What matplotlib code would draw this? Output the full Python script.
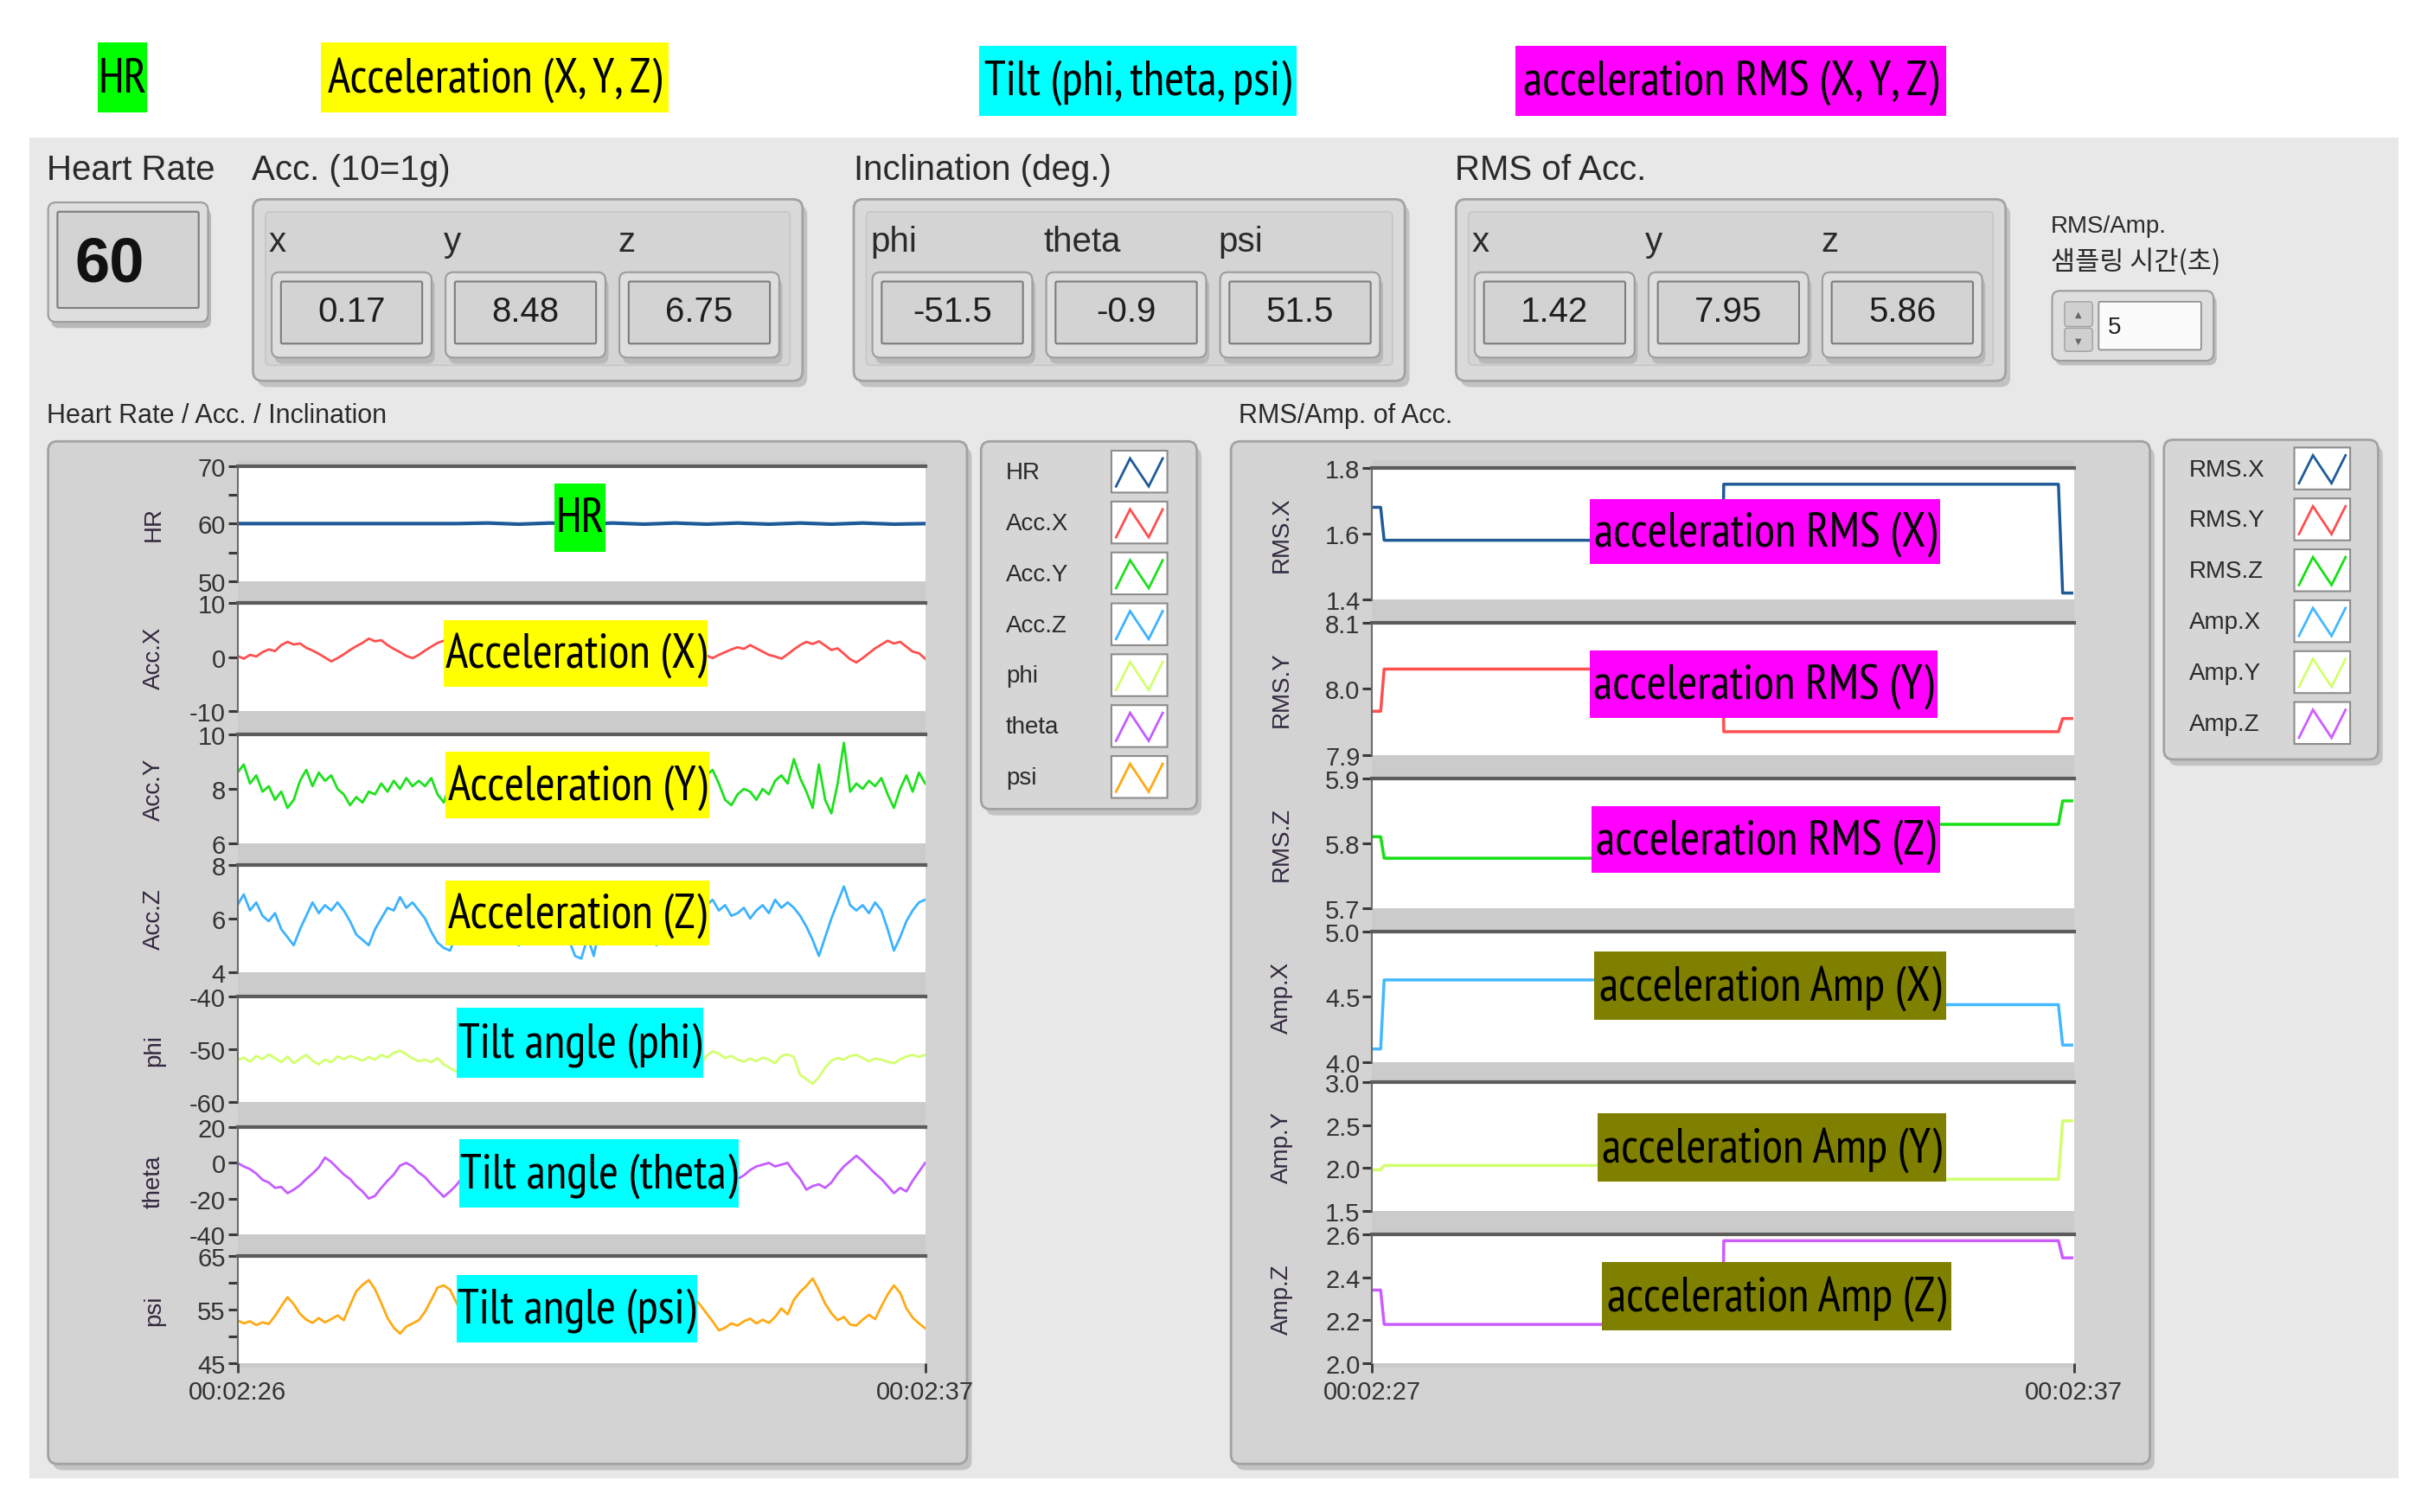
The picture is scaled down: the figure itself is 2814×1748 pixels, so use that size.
import matplotlib.pyplot as plt
import numpy as np
from matplotlib import font_manager
from matplotlib.patches import FancyBboxPatch, Rectangle
from matplotlib.ticker import FixedLocator, FormatStrFormatter

# ---- indicator values ----
hr_value = '60'
acc_values = ['0.17', '8.48', '6.75']
incl_values = ['-51.5', '-0.9', '51.5']
rms_values = ['1.42', '7.95', '5.86']
sampling_value = '5'

# ---- left chart: 00:02:26 .. 00:02:37 (seconds 146..157) ----
hr = [60.0, 60.0, 60.0, 60.0, 60.0, 60.0, 60.0, 60.0, 60.1, 59.9, 60.1, 59.9,
      60.1, 59.9, 60.1, 59.9, 60.1, 59.9, 60.1, 59.9, 60.1, 59.9, 60.0]

acc_x = [0.2, -0.3, 0.4, 0.1, 0.9, 1.4, 1.1, 2.2, 2.8, 2.3,
         2.5, 1.7, 1.2, 0.6, -0.1, -0.8, -0.2, 0.5, 1.3, 2.0,
         2.6, 3.4, 2.9, 3.1, 2.2, 1.5, 0.9, 0.2, -0.2, 0.4,
         1.2, 1.9, 2.6, 3.0, 2.4, 1.6, 0.8, 0.1, -0.5, 0.2,
         1.0, 1.8, 2.5, 3.0, 2.7, 2.0, 1.2, 0.4, -0.3, -0.6,
         0.1, 0.9, 1.7, 2.4, 3.0, 2.6, 1.8, 1.0, 0.3, -0.4,
         -0.1, 0.7, 1.5, 2.3, 2.9, 2.5, 1.7, 0.9, 0.2, -0.5,
         0.0, 0.8, 1.6, 2.2, 1.1, 0.3, -0.2, 0.4, 0.9, 1.4,
         1.8, 1.5, 2.2, 1.6, 1.0, 0.4, 0.1, -0.3, 0.5, 1.4,
         2.2, 2.8, 2.4, 2.9, 2.1, 1.3, 1.6, 0.6, -0.4, -1.0,
         -0.2, 0.7, 1.6, 2.3, 3.0, 2.5, 2.8, 1.9, 1.0, 0.7,
         -0.3]

acc_y = [8.6, 8.9, 8.2, 8.5, 7.9, 8.1, 7.6, 7.9, 7.3, 7.6,
         8.3, 8.7, 8.1, 8.6, 8.3, 8.5, 8.0, 7.8, 7.4, 7.7,
         7.5, 7.9, 7.8, 8.2, 7.9, 8.3, 8.0, 8.4, 8.1, 8.3,
         8.1, 8.4, 7.8, 7.5, 8.2, 8.6, 7.9, 8.3, 7.7, 8.1,
         8.5, 8.0, 7.6, 8.2, 8.7, 8.1, 7.8, 8.4, 8.0, 7.6,
         8.2, 8.8, 8.3, 7.7, 8.0, 8.5, 7.9, 8.3, 8.6, 7.8,
         8.1, 8.4, 7.6, 8.0, 8.6, 8.2, 7.8, 8.5, 8.1, 7.7,
         8.3, 8.7, 8.0, 7.6, 8.2, 8.5, 8.7, 8.2, 7.6, 7.4,
         7.8, 8.0, 7.9, 7.6, 8.0, 7.8, 8.3, 8.5, 8.2, 9.1,
         8.4, 7.9, 7.3, 8.9, 7.6, 7.1, 8.2, 9.7, 7.9, 8.2,
         8.0, 8.3, 8.1, 8.4, 7.8, 7.3, 8.0, 8.5, 7.9, 8.6,
         8.2]

acc_z = [6.5, 6.9, 6.3, 6.6, 6.1, 5.9, 6.2, 5.6, 5.3, 5.0,
         5.6, 6.1, 6.6, 6.2, 6.5, 6.3, 6.6, 6.3, 5.9, 5.4,
         5.2, 5.0, 5.6, 6.0, 6.4, 6.3, 6.8, 6.4, 6.6, 6.3,
         6.0, 5.5, 5.1, 4.9, 4.8, 5.4, 6.0, 6.4, 6.2, 6.6,
         6.3, 5.8, 5.4, 5.1, 5.2, 5.0, 5.7, 6.2, 6.5, 6.1,
         6.4, 6.0, 5.5, 5.2, 4.6, 4.5, 5.3, 4.6, 5.8, 6.3,
         6.6, 6.2, 6.4, 6.0, 5.7, 5.3, 5.6, 5.0, 5.4, 6.0,
         6.4, 6.1, 5.7, 5.4, 5.9, 6.5, 6.7, 6.3, 6.5, 6.1,
         6.2, 6.4, 6.0, 6.3, 6.5, 6.2, 6.7, 6.4, 6.6, 6.4,
         6.1, 5.7, 5.2, 4.6, 5.3, 6.0, 6.6, 7.2, 6.5, 6.3,
         6.5, 6.2, 6.6, 6.3, 5.6, 4.8, 5.3, 5.9, 6.3, 6.6,
         6.7]

phi = [-52.0, -51.5, -52.3, -51.2, -51.8, -50.9, -51.6, -52.4, -51.3, -52.6,
       -51.7, -51.0, -52.1, -52.8, -51.9, -52.4, -51.3, -51.8, -51.2, -51.6,
       -52.1, -51.4, -51.9, -51.0, -51.5, -50.6, -50.2, -50.9, -51.7, -52.2,
       -51.9, -52.4, -51.6, -52.8, -53.5, -54.2, -53.8, -52.9, -53.6, -52.7,
       -53.2, -52.4, -53.0, -52.1, -53.6, -54.8, -53.9, -52.6, -53.4, -52.8,
       -53.7, -52.9, -53.5, -54.6, -54.9, -53.8, -52.7, -53.4, -54.5, -55.1,
       -53.6, -52.8, -53.3, -52.5, -53.7, -52.6, -53.1, -52.4, -53.0, -52.2,
       -52.9, -53.5, -54.3, -55.0, -53.1, -51.2, -50.3, -50.8, -51.6, -51.2,
       -51.9, -52.3, -51.7, -52.2, -51.5, -51.9, -52.6, -51.2, -50.9, -51.4,
       -54.8, -55.6, -56.5, -55.2, -53.4, -52.1, -51.6, -51.9, -51.2, -51.0,
       -51.6, -52.2, -51.7, -51.9, -52.3, -52.6, -51.8, -51.3, -51.0, -51.4,
       -51.0]

theta = [0.0, -2.0, -3.5, -6.0, -9.5, -11.0, -14.0, -13.5, -17.0, -15.0,
         -12.5, -9.0, -6.0, -2.5, 3.0, 0.5, -3.0, -6.5, -9.0, -13.0,
         -16.0, -20.0, -18.5, -14.0, -10.0, -6.5, -1.5, 0.0, -2.0, -5.5,
         -8.0, -12.0, -15.5, -19.0, -16.0, -12.5, -8.0, -4.0, -1.0, 1.5,
         -1.0, -5.0, -9.5, -13.0, -17.0, -18.5, -15.0, -11.0, -7.0, -3.0,
         0.0, -1.5, -5.0, -9.0, -12.5, -16.5, -19.0, -16.0, -12.0, -7.5,
         -4.0, -0.5, 1.0, -3.0, -7.0, -11.0, -15.0, -18.0, -16.0, -12.0,
         -8.0, -4.5, -1.0, 0.5, -2.5, -6.0, -10.0, -13.5, -12.0, -10.0,
         -9.0, -7.0, -4.0, -2.0, -1.0, 0.0, -2.0, -1.0, 0.0, -5.0,
         -9.0, -15.0, -13.0, -12.0, -14.0, -11.0, -6.0, -2.0, 1.0, 4.0,
         1.0, -2.5, -6.0, -9.0, -13.0, -17.0, -14.0, -16.0, -10.0, -5.0,
         0.0]

psi = [53.0, 52.4, 52.8, 52.1, 52.6, 52.3, 53.8, 55.6, 57.3, 56.0,
       54.2, 53.1, 52.5, 53.4, 52.6, 53.2, 53.9, 53.0, 55.8, 58.4,
       59.6, 60.5, 58.8, 56.2, 53.4, 51.6, 50.5, 51.8, 52.4, 53.0,
       54.6, 56.8, 59.1, 59.5, 58.7, 56.3, 54.0, 52.6, 51.8, 53.2,
       55.1, 57.4, 58.6, 56.9, 54.2, 52.3, 51.5, 52.8, 54.6, 57.0,
       58.9, 57.6, 55.1, 53.0, 51.9, 52.7, 54.9, 57.8, 59.3, 57.5,
       54.8, 52.6, 51.4, 52.3, 54.5, 56.9, 58.2, 56.4, 53.9, 52.2,
       51.7, 53.4, 55.8, 57.1, 55.9, 54.3, 52.8, 51.1, 51.6, 52.4,
       52.0, 52.8, 53.3, 52.4, 53.1, 52.5, 53.6, 55.2, 54.1, 56.8,
       58.3, 59.4, 60.8, 58.6, 56.1, 54.3, 53.0, 53.6, 52.2, 52.0,
       53.1, 54.0, 53.2, 55.6, 57.8, 59.5, 58.1, 55.2, 53.5, 52.4,
       51.5]

# ---- right chart: 00:02:27 .. 00:02:37, step values ----
step_t = [147.0, 147.12, 147.17, 152.0, 152.01, 156.78, 156.84, 156.97]
rms_x = [1.68, 1.68, 1.58, 1.58, 1.75, 1.75, 1.42, 1.42]
rms_y = [7.966, 7.966, 8.03, 8.03, 7.935, 7.935, 7.955, 7.955]
rms_z = [5.81, 5.81, 5.777, 5.777, 5.829, 5.829, 5.865, 5.865]
amp_x = [4.1, 4.1, 4.63, 4.63, 4.44, 4.44, 4.13, 4.13]
amp_y = [1.98, 1.98, 2.03, 2.03, 1.87, 1.87, 2.55, 2.55]
amp_z = [2.34, 2.34, 2.18, 2.18, 2.57, 2.57, 2.49, 2.49]

left_names = ['HR', 'Acc.X', 'Acc.Y', 'Acc.Z', 'phi', 'theta', 'psi']
left_series = [hr, acc_x, acc_y, acc_z, phi, theta, psi]
left_colors = ['#1f5b99', '#ff4f4f', '#1ee01e', '#3cb2ff', '#d2ff6e', '#c65cff', '#ffaa14']
left_ticks = [[50, 60, 70], [-10, 0, 10], [6, 8, 10], [4, 6, 8],
              [-60, -50, -40], [-40, -20, 0, 20], [45, 55, 65]]
left_minor = [[55, 65], [], [], [], [], [], [50, 60]]
left_xticks = [146, 157]
left_xlabels = ['00:02:26', '00:02:37']

right_names = ['RMS.X', 'RMS.Y', 'RMS.Z', 'Amp.X', 'Amp.Y', 'Amp.Z']
right_series = [rms_x, rms_y, rms_z, amp_x, amp_y, amp_z]
right_colors = ['#1f5b99', '#ff5050', '#14e014', '#44b8ff', '#d2ff6e', '#cc5cff']
right_ticks = [[1.4, 1.6, 1.8], [7.9, 8.0, 8.1], [5.7, 5.8, 5.9],
               [4.0, 4.5, 5.0], [1.5, 2.0, 2.5, 3.0], [2.0, 2.2, 2.4, 2.6]]
right_xticks = [147, 157]
right_xlabels = ['00:02:27', '00:02:37']

# fonts: Arial-like for the screen, a narrow face for the highlighted tags
installed = {f.name for f in font_manager.fontManager.ttflist}
narrow = next((n for n in ['PT Sans Narrow', 'Liberation Sans Narrow', 'Arial Narrow',
                           'Roboto Condensed', 'Fira Sans Condensed', 'IBM Plex Sans Condensed',
                           'Archivo Narrow', 'Sofia Sans Condensed']
               if n in installed), 'DejaVu Sans')
NAR = [narrow, 'DejaVu Sans']
UI = ['Liberation Sans', 'DejaVu Sans']
KR = ['Noto Sans CJK KR', 'DejaVu Sans']
plt.rcParams['font.family'] = UI

W, H = 1568, 975
fig = plt.figure(figsize=(28.14, 17.49), dpi=100, facecolor='white')


def full_axes(z):
    a = fig.add_axes([0, 0, 1, 1])
    a.set_xlim(0, W)
    a.set_ylim(H, 0)
    a.axis('off')
    a.set_zorder(z)
    return a


bg = full_axes(0)
fg = full_axes(10)


def box(x0, y0, x1, y1, fc, ec='none', lw=1.5, r=4, z=1, ax=bg):
    ax.add_patch(FancyBboxPatch((x0, y0), x1 - x0, y1 - y0,
                                boxstyle=f'round,pad=0,rounding_size={r}',
                                fc=fc, ec=ec, lw=lw, zorder=z))


def frame(x0, y0, x1, y1, fc='#d6d6d6'):
    box(x0 + 3, y0 + 4, x1 + 3, y1 + 4, '#c2c2c2', r=6, z=1)
    box(x0, y0, x1, y1, fc, '#a2a2a2', 2, r=6, z=2)


def indicator(x0, y0, x1, y1, txt=None):
    box(x0 + 2, y0 + 4, x1 + 2, y1 + 4, '#b8b8b8', r=5, z=4)
    box(x0, y0, x1, y1, '#dedede', '#9c9c9c', 1.5, r=5, z=5)
    box(x0 + 6, y0 + 6, x1 - 6, y1 - 9, '#d3d3d3', '#7c7c7c', 1.5, r=1, z=6)
    if txt is not None:
        bg.text((x0 + x1) / 2, (y0 + y1) / 2 - 2, txt, ha='center', va='center',
                fontsize=29, color='#1e1e1e', zorder=7)


# grey panel
bg.add_patch(Rectangle((19, 89), 1526, 864, fc='#e8e8e8', ec='none', zorder=0.5))

# top indicators
for x, lab in [(30, 'Heart Rate'), (162, 'Acc. (10=1g)'), (550, 'Inclination (deg.)'), (937, 'RMS of Acc.')]:
    bg.text(x, 110, lab, fontsize=29, color='#2a2a2a', va='center')

indicator(31, 131, 134, 208)
bg.text(48, 171, hr_value, fontsize=52, fontweight='bold', color='#111111',
        va='center', ha='left', zorder=7)

clusters = [(163, 517, ['x', 'y', 'z'], [173, 286, 398], [175, 287, 399], acc_values),
            (550, 905, ['phi', 'theta', 'psi'], [561, 672, 785], [562, 674, 786], incl_values),
            (938, 1292, ['x', 'y', 'z'], [948, 1060, 1173], [950, 1062, 1174], rms_values)]
for cx0, cx1, labs, lx, bx, vals in clusters:
    frame(cx0, 129, cx1, 246, '#dadada')
    box(cx0 + 8, 137, cx1 - 8, 236, '#d4d4d4', '#c6c6c6', 1.2, r=3, z=3)
    for lab, x, b, v in zip(labs, lx, bx, vals):
        bg.text(x, 156, lab, fontsize=29, color='#2a2a2a', va='center', zorder=7)
        indicator(b, 176, b + 103, 231, v)

# sampling time control
bg.text(1321, 146, 'RMS/Amp.', fontsize=20, color='#2a2a2a', va='center')
bg.text(1321, 169, '샘플링 시간(초)', fontsize=22, color='#2a2a2a', va='center', family=KR)
box(1324, 191, 1428, 236, '#bdbdbd', r=5, z=4)
box(1322, 188, 1426, 233, '#dedede', '#9c9c9c', 1.5, r=5, z=5)
box(1330, 195, 1348, 211, '#d0d0d0', '#a0a0a0', 1, r=2, z=6)
box(1330, 212, 1348, 227, '#d0d0d0', '#a0a0a0', 1, r=2, z=6)
bg.text(1339, 203, '▲', fontsize=7, ha='center', va='center', color='#666', zorder=7, family=['DejaVu Sans'])
bg.text(1339, 220, '▼', fontsize=7, ha='center', va='center', color='#666', zorder=7, family=['DejaVu Sans'])
box(1352, 195, 1418, 226, '#fbfbfb', '#8a8a8a', 1.2, r=1, z=6)
bg.text(1358, 211, sampling_value, fontsize=20, va='center', color='#222', zorder=7)

# graph titles and frames
bg.text(30, 268, 'Heart Rate / Acc. / Inclination', fontsize=22, color='#2a2a2a', va='center')
bg.text(798, 268, 'RMS/Amp. of Acc.', fontsize=22, color='#2a2a2a', va='center')
frame(31, 285, 623, 944, '#d3d3d3')
frame(793, 285, 1385, 944, '#d3d3d3')
frame(632, 285, 771, 522, '#d6d6d6')
frame(1394, 284, 1532, 490, '#d6d6d6')


def swatch(x0, yc, color):
    box(x0, yc - 14, x0 + 36, yc + 13, '#ffffff', '#8c8c8c', 1.5, r=0, z=4)
    bg.plot([x0 + 3, x0 + 12, x0 + 24, x0 + 33], [yc + 9, yc - 9, yc + 9, yc - 9],
            color=color, lw=2, zorder=5, solid_joinstyle='miter')


for i, (n, c) in enumerate(zip(left_names, left_colors)):
    yc = 305 + 32.8 * i
    bg.text(648, yc, n, fontsize=20, va='center', color='#2a2a2a', zorder=5)
    swatch(716, yc, c)
for i, (n, c) in enumerate(zip(right_names, right_colors)):
    yc = 303 + 32.8 * i
    bg.text(1410, yc, n, fontsize=20, va='center', color='#2a2a2a', zorder=5)
    swatch(1478, yc, c)


def plot_axes(x0, x1, top, bottom):
    ax = fig.add_axes([x0 / W, 1 - bottom / H, (x1 - x0) / W, (bottom - top) / H])
    ax.set_zorder(5)
    ax.set_facecolor('white')
    ax.spines['right'].set_visible(False)
    ax.spines['bottom'].set_visible(False)
    ax.spines['top'].set_color('#5c5c5c')
    ax.spines['top'].set_linewidth(3)
    ax.spines['left'].set_color('#6a6a6a')
    ax.spines['left'].set_linewidth(1.5)
    ax.tick_params(axis='y', which='both', direction='out', length=8, width=2.2,
                   color='#3a3a3a', labelsize=21, labelcolor='#333333', pad=2)
    ax.tick_params(axis='x', bottom=False, labelbottom=False)
    return ax


left_tops = [301, 389, 474, 558, 643, 727, 810]
left_bots = [375, 459, 544, 627, 711, 796, 879]
right_tops = [302, 402, 502, 601, 698, 796]
right_bots = [387, 487, 586, 685, 781, 879]

bg.add_patch(Rectangle((153, 297), 443, 585, fc='#cbcbcb', ec='none', zorder=3))
bg.add_patch(Rectangle((884, 297), 452, 585, fc='#cbcbcb', ec='none', zorder=3))


def bottom_xaxis(ax, ticks, labels):
    ax.set_xticks(ticks)
    ax.set_xticklabels(labels)
    ax.tick_params(axis='x', bottom=True, labelbottom=True, direction='out',
                   length=8, width=2, color='#3a3a3a', labelsize=21,
                   labelcolor='#333333', pad=6)


for i, (name, s, c) in enumerate(zip(left_names, left_series, left_colors)):
    ax = plot_axes(153, 596, left_tops[i], left_bots[i])
    t = np.linspace(146, 157, len(s))
    ax.plot(t, s, color=c, lw=3 if i == 0 else 2)
    ax.set_xlim(146, 157)
    tk = left_ticks[i]
    ax.set_ylim(min(tk), max(tk))
    ax.yaxis.set_major_locator(FixedLocator(tk))
    ax.yaxis.set_minor_locator(FixedLocator(left_minor[i]))
    ax.yaxis.set_major_formatter(FormatStrFormatter('%d'))
    ax.set_ylabel(name, fontsize=20, color='#33283f')
    ax.yaxis.set_label_coords(-0.105, 0.5)
    if i == len(left_names) - 1:
        bottom_xaxis(ax, left_xticks, left_xlabels)

for i, (name, s, c) in enumerate(zip(right_names, right_series, right_colors)):
    ax = plot_axes(884, 1336, right_tops[i], right_bots[i])
    ax.plot(step_t, s, color=c, lw=2.5)
    ax.set_xlim(147, 157)
    tk = right_ticks[i]
    ax.set_ylim(min(tk), max(tk))
    ax.yaxis.set_major_locator(FixedLocator(tk))
    ax.yaxis.set_major_formatter(FormatStrFormatter('%.1f'))
    ax.set_ylabel(name, fontsize=20, color='#33283f')
    ax.yaxis.set_label_coords(-0.113, 0.5)
    if i == len(right_names) - 1:
        bottom_xaxis(ax, right_xticks, right_xlabels)

# highlighted annotation labels
tags = [('HR', '#00ff00', 63, 95, 28, 73),
        ('Acceleration (X, Y, Z)', '#ffff00', 207, 431, 28, 73),
        ('Tilt (phi, theta, psi)', '#00ffff', 631, 835, 30, 75),
        ('acceleration RMS (X, Y, Z)', '#ff00ff', 976, 1254, 30, 75),
        ('HR', '#00ff00', 357, 390, 312, 356),
        ('Acceleration (X)', '#ffff00', 286, 456, 400, 443),
        ('Acceleration (Y)', '#ffff00', 287, 457, 485, 528),
        ('Acceleration (Z)', '#ffff00', 287, 457, 568, 610),
        ('Tilt angle (phi)', '#00ffff', 294, 453, 650, 695),
        ('Tilt angle (theta)', '#00ffff', 296, 476, 735, 779),
        ('Tilt angle (psi)', '#00ffff', 294, 449, 822, 866),
        ('acceleration RMS (X)', '#ff00ff', 1024, 1250, 322, 364),
        ('acceleration RMS (Y)', '#ff00ff', 1024, 1248, 420, 463),
        ('acceleration RMS (Z)', '#ff00ff', 1025, 1250, 520, 563),
        ('acceleration Amp (X)', '#808000', 1027, 1254, 614, 658),
        ('acceleration Amp (Y)', '#808000', 1029, 1254, 718, 762),
        ('acceleration Amp (Z)', '#808000', 1032, 1257, 814, 858)]
for txt, col, x0, x1, y0, y1 in tags:
    fg.add_patch(Rectangle((x0, y0), x1 - x0, y1 - y0, fc=col, ec='none', zorder=1))
    fg.text((x0 + x1) / 2, (y0 + y1) / 2 + 1, txt, ha='center', va='center',
            fontsize=40, color='#000000', zorder=2, family=NAR)

fig.savefig('out.png', dpi=100, facecolor='white')
